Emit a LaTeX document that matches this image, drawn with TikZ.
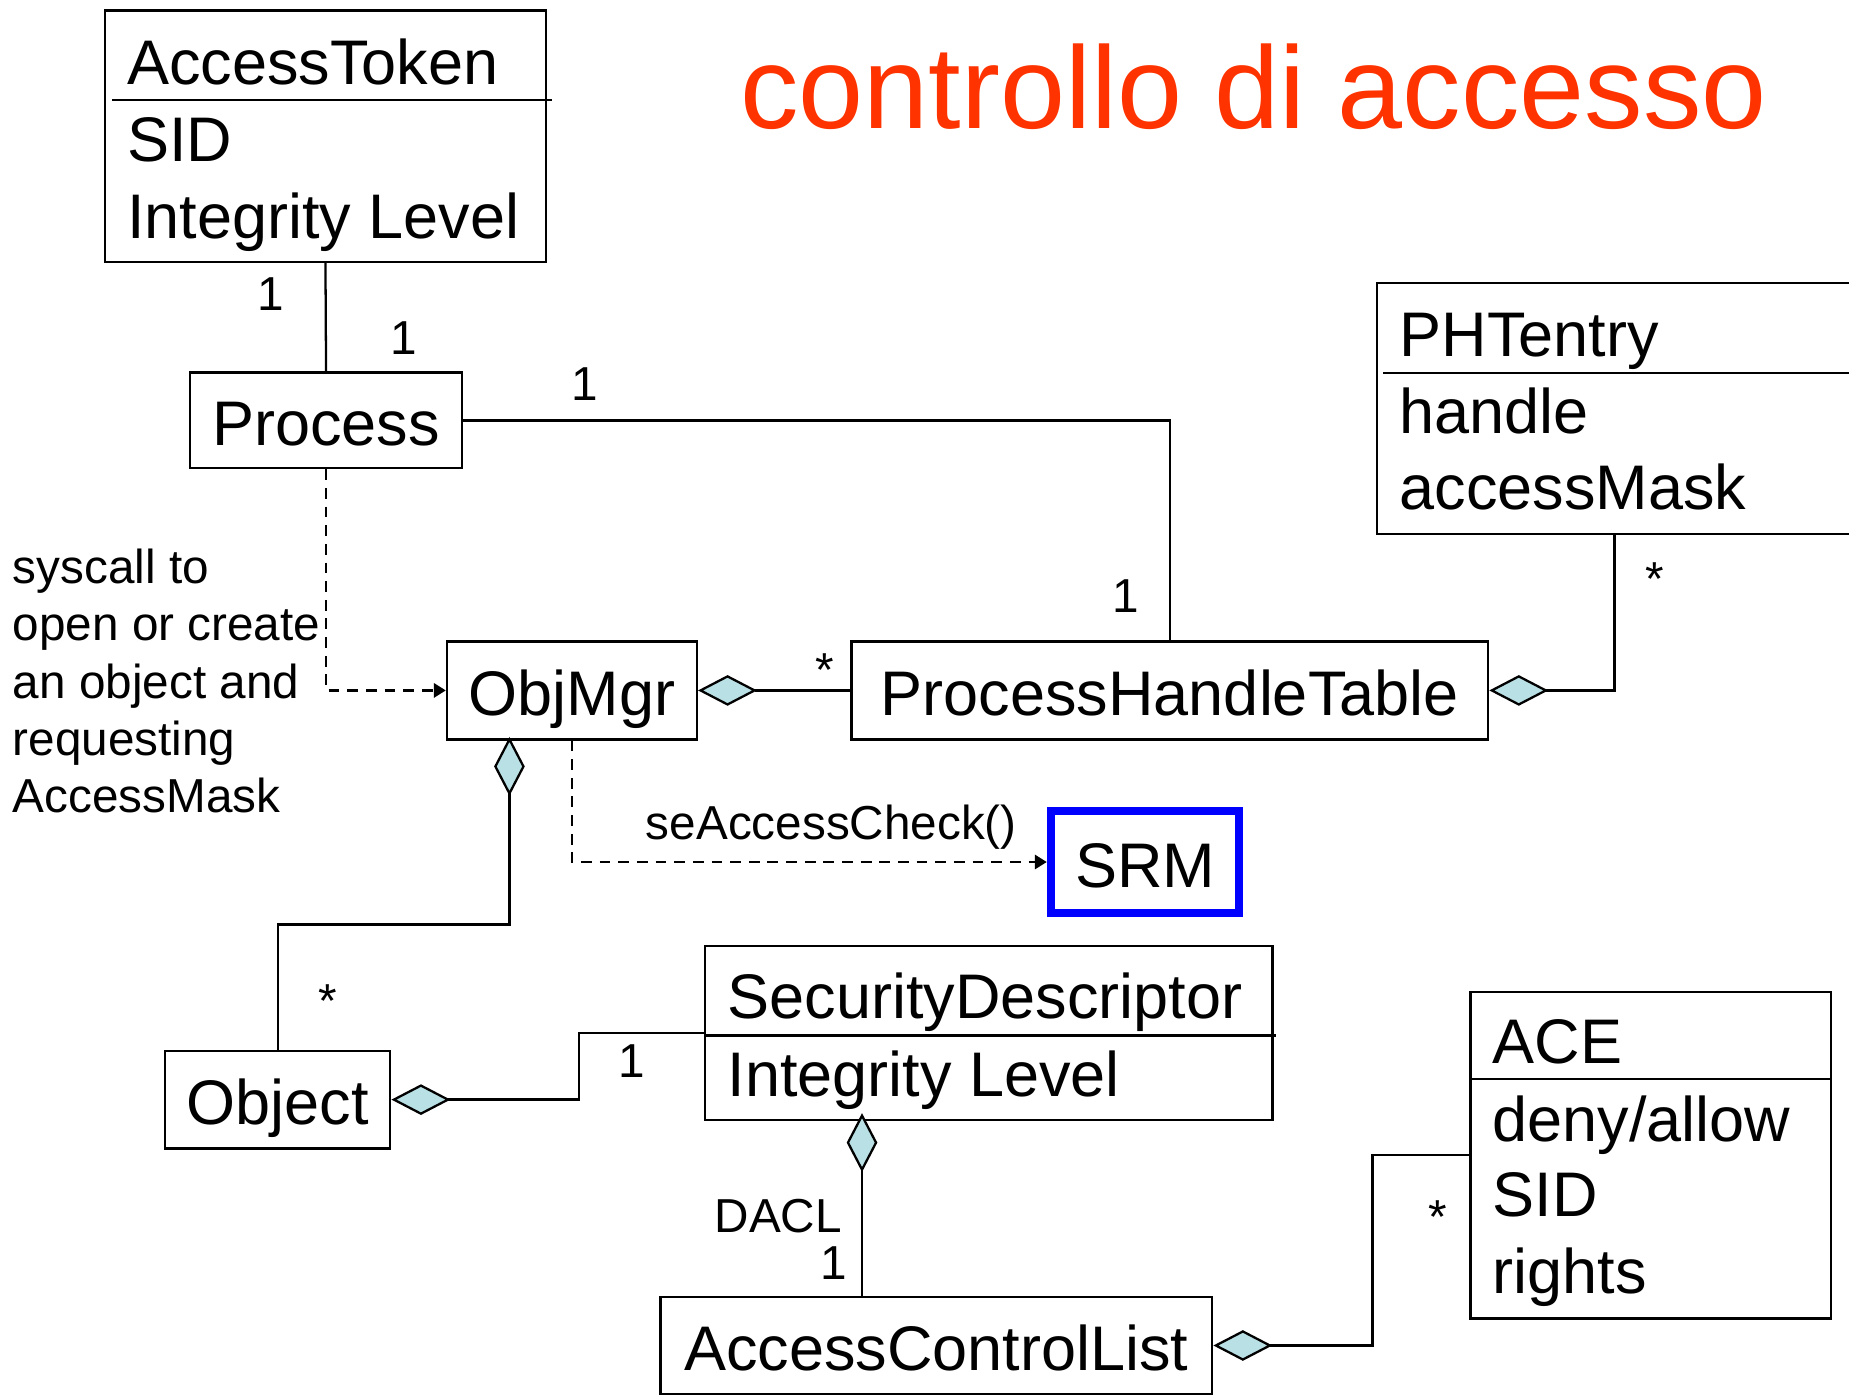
\documentclass[tikz,border=0pt]{standalone}
\usepackage{fontspec}
\setmainfont{Liberation Sans}
\usepackage{tikz}
\usetikzlibrary{arrows.meta, shapes.geometric, positioning}

\definecolor{titlered}{RGB}{255,51,0}
\definecolor{aggfill}{RGB}{185,224,228}
\definecolor{srmblue}{RGB}{0,0,255}

\newcommand{\boxfont}{\fontsize{15.2}{18.5}\selectfont}
\newcommand{\notefont}{\fontsize{11.5}{13.8}\selectfont}
\newcommand{\bigtitlefont}{\fontsize{28.2}{34}\selectfont}

\tikzset{
    cls/.style={draw, rectangle, inner sep=0pt, font=\boxfont, text height=0.43cm, text depth=0pt},
    attr/.style={anchor=base west, inner sep=0pt, font=\boxfont},
    mult/.style={anchor=base, inner sep=0pt, font=\notefont},
    agg/.style={{Diamond[length=0.5cm, width=0.26cm, fill=aggfill]}-},
    call/.style={dash pattern=on 2.6pt off 1.9pt, -{Triangle[length=0.1cm, width=0.12cm]}},
}

\begin{document}
\begin{tikzpicture}[line width=0.55pt]
    \useasboundingbox (0,0) rectangle (15.68,-11.84);
    \clip (0,0) rectangle (15.68,-11.84);

    \node[anchor=base west, inner sep=0pt, font=\bigtitlefont, text=titlered] (title) at (6.27,-1.09) {controllo di accesso};

    % Token and process
    \node[cls, minimum width=3.74cm, minimum height=2.13cm] (tok) at (2.76,-1.155) {};
    \draw ([xshift=0.07cm, yshift=-0.77cm]tok.north west) -- ([xshift=0.04cm, yshift=-0.77cm]tok.north east);
    \node[attr] (tokname) at (1.07,-0.72) {AccessToken};
    \node[attr] (toksid) at (1.07,-1.37) {SID};
    \node[attr] (toklevel) at (1.07,-2.02) {Integrity Level};

    \node[cls, minimum width=2.31cm, minimum height=0.81cm] (proc) at (2.765,-3.565) {Process};

    % Handle table and its entries
    \node[cls, minimum width=4.02cm, minimum height=2.13cm] (phe) at (13.69,-3.465) {};
    \draw ([xshift=0.06cm, yshift=-0.77cm]phe.north west) -- ([yshift=-0.77cm]phe.north east);
    \node[attr] (phename) at (11.86,-3.02) {PHTentry};
    \node[attr] (phehandle) at (11.86,-3.68) {handle};
    \node[attr] (phemask) at (11.86,-4.32) {accessMask};

    \node[cls, minimum width=5.40cm, minimum height=0.83cm] (pht) at (9.92,-5.855) {ProcessHandleTable};
    \node[cls, minimum width=2.12cm, minimum height=0.83cm] (om) at (4.85,-5.855) {ObjMgr};
    \node[cls, draw=srmblue, line width=1.9pt, minimum width=1.6cm, minimum height=0.87cm] (srm) at (9.71,-7.31) {SRM};

    \node[anchor=west, align=left, inner sep=0pt, font=\notefont] (syscall) at (0.10,-5.775) {syscall to\\open or create\\an object and\\requesting\\AccessMask};

    % Objects, descriptors, ACL
    \node[cls, minimum width=1.91cm, minimum height=0.83cm] (obj) at (2.355,-9.325) {Object};

    \node[cls, minimum width=4.81cm, minimum height=1.48cm] (sd) at (8.385,-8.76) {};
    \draw ([yshift=-0.77cm]sd.north west) -- ([xshift=0.02cm, yshift=-0.77cm]sd.north east);
    \node[attr] (sdname) at (6.16,-8.64) {SecurityDescriptor};
    \node[attr] (sdlevel) at (6.16,-9.30) {Integrity Level};

    \node[cls, minimum width=4.68cm, minimum height=0.82cm] (acl) at (7.94,-11.41) {AccessControlList};

    \node[cls, minimum width=3.06cm, minimum height=2.77cm] (ace) at (14.00,-9.795) {};
    \draw ([yshift=-0.75cm]ace.north west) -- ([yshift=-0.75cm]ace.north east);
    \node[attr] (acename) at (12.65,-9.02) {ACE};
    \node[attr] (acemode) at (12.65,-9.68) {deny/allow};
    \node[attr] (acesid) at (12.65,-10.32) {SID};
    \node[attr] (acerights) at (12.65,-10.97) {rights};

    % connectors
    \draw (tok.south) -- (proc.north);
    \draw (proc.east) -| (pht.north);
    \draw[agg] (pht.east) -| (phe.south);
    \draw[agg] (om.east) -- (pht.west);
    \draw[call] (proc.south) |- (om.west);
    \draw[call] (om.south) |- (srm.west);
    \draw[agg] ([xshift=-0.53cm, yshift=0.03cm]om.south) -- ++(0,-1.59) -| (obj.north);
    \draw[agg] (obj.east) -- ++(1.59,0) |- (sd.west);
    \draw[agg] ([xshift=-1.075cm, yshift=0.07cm]sd.south) -- ([xshift=-0.63cm]acl.north);
    \draw[agg] (acl.east) -- ++(1.35,0) |- (ace.west);

    % multiplicities and labels
    \node[mult] (m1) at (2.30,-2.63) {1};
    \node[mult] (m2) at (3.42,-3.01) {1};
    \node[mult] (m3) at (4.96,-3.40) {1};
    \node[mult] (m4) at (9.55,-5.19) {1};
    \node[mult] (m5) at (14.03,-5.05) {*};
    \node[mult] (m6) at (6.99,-5.82) {*};
    \node[mult] (m7) at (2.78,-8.63) {*};
    \node[mult] (m8) at (5.36,-9.14) {1};
    \node[mult] (dacl) at (6.60,-10.45) {DACL};
    \node[mult] (m9) at (7.07,-10.85) {1};
    \node[mult] (m10) at (12.19,-10.46) {*};
    \node[mult] (check) at (7.05,-7.12) {seAccessCheck()};
\end{tikzpicture}
\end{document}
